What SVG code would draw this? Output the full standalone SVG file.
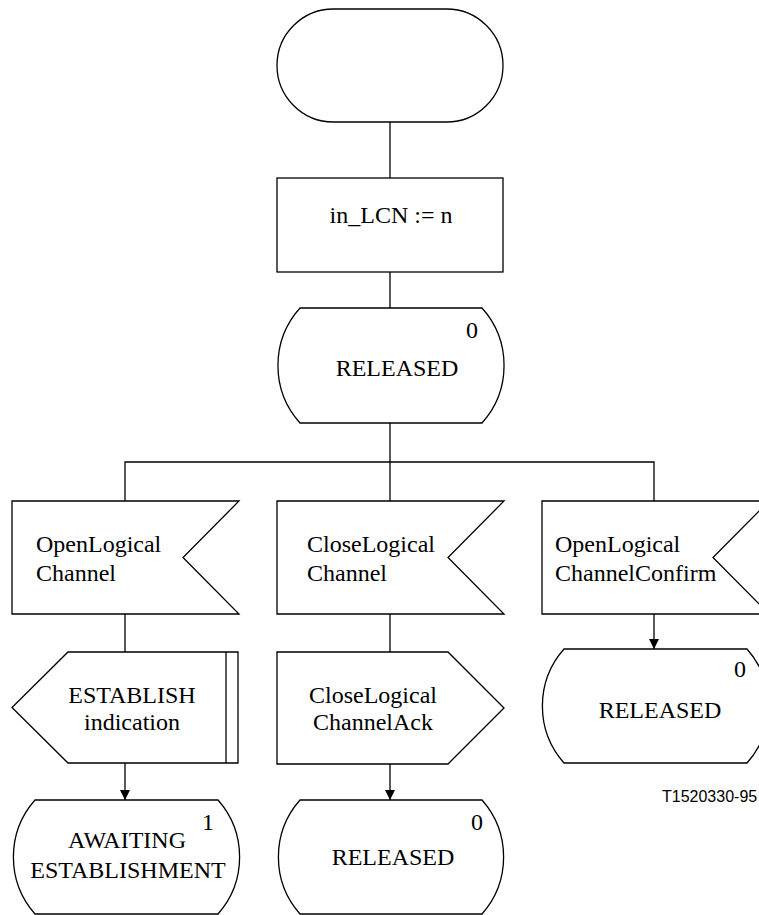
<svg xmlns="http://www.w3.org/2000/svg" width="759" height="915" viewBox="0 0 759 915">
<style>
.s{fill:#fff;stroke:#000;stroke-width:1.3}
.c{fill:none;stroke:#000;stroke-width:1.3}
.t{font-family:"Liberation Serif","Times New Roman",serif;font-size:24px;fill:#000}
.m{text-anchor:middle}
.r{font-family:"Liberation Sans",Arial,sans-serif;font-size:16px;fill:#000}
</style>
<defs>
<marker id="ah" markerWidth="10" markerHeight="10" refX="10" refY="5" orient="auto" markerUnits="userSpaceOnUse">
<path d="M0,0 L10,5 L0,10 Z" fill="#000"/>
</marker>
</defs>
<g id="connectors">
<line class="c" x1="390" y1="122" x2="390" y2="178"/>
<line class="c" x1="390" y1="272" x2="390" y2="308"/>
<line class="c" x1="390" y1="423" x2="390" y2="501"/>
<polyline class="c" points="125,501 125,462 654,462 654,501"/>
<line class="c" x1="125" y1="614" x2="125" y2="652"/>
<line class="c" x1="390" y1="614" x2="390" y2="652"/>
<line class="c" x1="125" y1="763" x2="125" y2="800" marker-end="url(#ah)"/>
<line class="c" x1="390" y1="764" x2="390" y2="800" marker-end="url(#ah)"/>
<line class="c" x1="654" y1="614" x2="654" y2="649" marker-end="url(#ah)"/>
</g>
<g id="start">
<rect class="s" x="277" y="9" width="226" height="113" rx="56.5" ry="56.5"/>
</g>
<g id="task">
<rect class="s" x="277" y="178" width="226" height="94"/>
<text class="t m" x="391" y="223">in_LCN := n</text>
</g>
<g id="state_released_top">
<path class="s" d="M300,308 H482 A86,86 0 0 1 482,423 H300 A86,86 0 0 1 300,308 Z"/>
<text class="t m" x="472" y="338">0</text>
<text class="t m" x="397" y="376">RELEASED</text>
</g>
<g id="input_open">
<path class="s" d="M12,501 H239 L183,557.5 L239,614 H12 Z"/>
<text class="t" x="36" y="552">OpenLogical</text>
<text class="t" x="36" y="581">Channel</text>
</g>
<g id="input_close">
<path class="s" d="M277,501 H504 L448,557.5 L504,614 H277 Z"/>
<text class="t" x="307" y="552">CloseLogical</text>
<text class="t" x="307" y="581">Channel</text>
</g>
<g id="input_confirm">
<path class="s" d="M542,501 H769 L713,557.5 L769,614 H542 Z"/>
<text class="t" x="555" y="552">OpenLogical</text>
<text class="t" x="555" y="581">ChannelConfirm</text>
</g>
<g id="output_establish">
<path class="s" d="M68,652 H238 V763 H68 L12,707.5 Z"/>
<line class="c" x1="226" y1="652" x2="226" y2="763"/>
<text class="t m" x="132" y="703">ESTABLISH</text>
<text class="t m" x="132" y="730">indication</text>
</g>
<g id="output_closeack">
<path class="s" d="M277,652 H448 L504,708 L448,764 H277 Z"/>
<text class="t m" x="373" y="703">CloseLogical</text>
<text class="t m" x="373" y="730">ChannelAck</text>
</g>
<g id="state_awaiting">
<path class="s" d="M35,800 H218 A86,86 0 0 1 218,914 H35 A86,86 0 0 1 35,800 Z"/>
<text class="t m" x="208" y="830">1</text>
<text class="t m" x="127" y="848">AWAITING</text>
<text class="t m" x="128" y="878">ESTABLISHMENT</text>
</g>
<g id="state_released_mid">
<path class="s" d="M300,800 H482 A86,86 0 0 1 482,914 H300 A86,86 0 0 1 300,800 Z"/>
<text class="t m" x="477" y="830">0</text>
<text class="t m" x="393" y="865">RELEASED</text>
</g>
<g id="state_released_right">
<path class="s" d="M564,649 H747 A86,86 0 0 1 747,763 H564 A86,86 0 0 1 564,649 Z"/>
<text class="t m" x="740" y="677">0</text>
<text class="t m" x="660" y="718">RELEASED</text>
</g>
<text class="r" x="662" y="802">T1520330-95</text>
</svg>
